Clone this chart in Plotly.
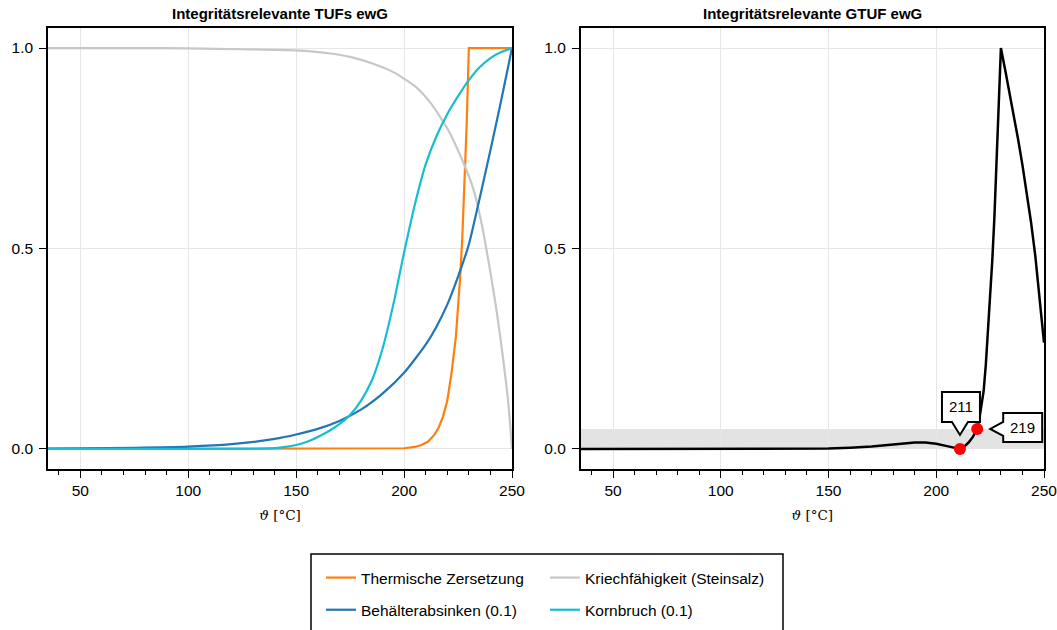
import plotly.graph_objects as go

# ---------------- data ----------------
# Left panel: Integritätsrelevante TUFs ewG
x_therm = [35, 100, 150, 180, 190, 195, 200, 205, 208, 211, 214, 216, 218, 220,
           222, 224, 225, 226, 227, 228, 229, 230, 250]
y_therm = [0.0, 0.0, 0.0, 0.00003, 0.0002, 0.0006, 0.0018, 0.005, 0.01, 0.018, 0.035,
           0.053, 0.08, 0.12, 0.19, 0.28, 0.35, 0.43, 0.53, 0.66, 0.81, 1.0, 1.0]

x_kriech = [35, 75, 100, 125, 150, 165, 175, 185, 195, 205, 212, 220, 227, 232,
            236, 240, 243, 246, 248, 249, 250]
y_kriech = [1.0, 1.0, 0.999, 0.997, 0.994, 0.987, 0.978, 0.962, 0.94, 0.905, 0.865,
            0.80, 0.72, 0.65, 0.56, 0.44, 0.34, 0.22, 0.13, 0.07, 0.0]

x_beh = [35, 50, 75, 100, 120, 140, 150, 160, 170, 180, 190, 200, 210, 215, 220,
         225, 230, 235, 240, 245, 250]
y_beh = [0.001, 0.0015, 0.003, 0.006, 0.012, 0.025, 0.036, 0.05, 0.07, 0.098, 0.138,
         0.19, 0.26, 0.305, 0.36, 0.43, 0.51, 0.625, 0.745, 0.87, 1.0]

x_korn = [35, 100, 130, 140, 145, 150, 155, 160, 165, 170, 175, 180, 185, 190, 195,
          200, 205, 210, 215, 220, 225, 230, 235, 240, 245, 250]
y_korn = [0.0, 0.0, 0.0005, 0.002, 0.005, 0.01, 0.018, 0.03, 0.044, 0.062, 0.085,
          0.12, 0.17, 0.25, 0.36, 0.49, 0.61, 0.71, 0.78, 0.835, 0.88, 0.92,
          0.952, 0.975, 0.99, 1.0]

# Right panel: Integritätsrelevante GTUF ewG
x_gtuf = [35, 100, 140, 150, 160, 170, 180, 185, 190, 195, 200, 205, 208, 211, 213,
          215, 217, 219, 220, 221, 222, 223, 224, 225, 226, 227, 228, 229, 230, 232,
          234, 236, 238, 240, 242, 244, 246, 248, 250]
y_gtuf = [0.0, 0.0, 0.0005, 0.001, 0.003, 0.006, 0.011, 0.014, 0.016, 0.016, 0.013,
          0.007, 0.003, 0.0, 0.006, 0.016, 0.03, 0.05, 0.075, 0.105, 0.145, 0.21,
          0.29, 0.38, 0.47, 0.58, 0.72, 0.86, 1.0, 0.945, 0.89, 0.832, 0.772, 0.708,
          0.64, 0.565, 0.48, 0.38, 0.265]

x_marks = [211, 219]
y_marks = [0.0, 0.05]
GTUF_THRESHOLD = 0.05

names = ["Thermische Zersetzung", "Kriechfähigkeit (Steinsalz)",
         "Behälterabsinken (0.1)", "Kornbruch (0.1)"]
titles = ["Integritätsrelevante TUFs ewG", "Integritätsrelevante GTUF ewG"]
x_ticks = [50, 100, 150, 200, 250]
y_ticks = [0.0, 0.5, 1.0]
y_ticktext = ["0.0", "0.5", "1.0"]

# ---------------- styling ----------------
FONT = "Liberation Sans, Arial, Helvetica, sans-serif"
C_ORANGE, C_BLUE, C_CYAN, C_GRAY = "#ff7f0e", "#1f77b4", "#17becf", "#c7c7c7"
W, H = 1057, 630
ML, MR, MT, MB = 48, 13, 28, 161
PW = W - ML - MR
PH = H - MT - MB


def px_x(p):
    return (p - ML) / PW


def px_y(p):
    return (H - MB - p) / PH


fig = go.Figure()

fig.add_trace(go.Scatter(x=x_therm, y=y_therm, mode="lines", name=names[0],
                         line=dict(color=C_ORANGE, width=2.2),
                         legend="legend", legendgroup="a", xaxis="x", yaxis="y"))
fig.add_trace(go.Scatter(x=x_kriech, y=y_kriech, mode="lines", name=names[1],
                         line=dict(color=C_GRAY, width=2.2, shape="spline", smoothing=0.6),
                         legend="legend2", legendgroup="b", xaxis="x", yaxis="y"))
fig.add_trace(go.Scatter(x=x_beh, y=y_beh, mode="lines", name=names[2],
                         line=dict(color=C_BLUE, width=2.2, shape="spline", smoothing=0.6),
                         legend="legend", legendgroup="c", xaxis="x", yaxis="y"))
fig.add_trace(go.Scatter(x=x_korn, y=y_korn, mode="lines", name=names[3],
                         line=dict(color=C_CYAN, width=2.2, shape="spline", smoothing=0.6),
                         legend="legend2", legendgroup="d", xaxis="x", yaxis="y"))

fig.add_trace(go.Scatter(x=x_gtuf, y=y_gtuf, mode="lines", showlegend=False,
                         line=dict(color="black", width=2.5),
                         xaxis="x2", yaxis="y2"))
fig.add_trace(go.Scatter(x=x_marks, y=y_marks, mode="markers", showlegend=False,
                         marker=dict(color="#ff0000", size=12),
                         cliponaxis=False, xaxis="x2", yaxis="y2"))

axis_common = dict(
    showline=True, mirror=True, linecolor="black", linewidth=1.5,
    showgrid=True, gridcolor="#e6e6e6", gridwidth=1, zeroline=False,
    ticks="outside", ticklen=7, tickwidth=1.3, tickcolor="black",
    tickfont=dict(family=FONT, size=15.5, color="black"), automargin=False,
    ticklabeloverflow="allow",
)
xcommon = dict(axis_common, range=[35, 250], tickvals=x_ticks,
               minor=dict(ticks="outside", ticklen=4, tickwidth=1.3, tickcolor="black",
                          dtick=10, tick0=0, showgrid=False),
               title=dict(text="<i>ϑ</i> [°C]", standoff=12,
                          font=dict(family="DejaVu Serif, serif", size=13.5, color="black")))
ycommon = dict(axis_common, range=[-0.05, 1.05], tickvals=y_ticks, ticktext=y_ticktext,
               ticklabelstandoff=3)

fig.update_layout(
    width=W, height=H,
    margin=dict(l=ML, r=MR, t=MT, b=MB, autoexpand=False),
    paper_bgcolor="white", plot_bgcolor="white",
    xaxis=dict(xcommon, domain=[0, px_x(512)], anchor="y"),
    yaxis=dict(ycommon, domain=[0, 1], anchor="x"),
    xaxis2=dict(xcommon, domain=[px_x(580.7), 1], anchor="y2"),
    yaxis2=dict(ycommon, domain=[0, 1], anchor="x2"),
    legend=dict(x=px_x(321), y=px_y(561), xanchor="left", yanchor="top",
                bgcolor="rgba(0,0,0,0)", borderwidth=0, tracegroupgap=9,
                font=dict(family=FONT, size=15.5, color="black")),
    legend2=dict(x=px_x(545), y=px_y(561), xanchor="left", yanchor="top",
                 bgcolor="rgba(0,0,0,0)", borderwidth=0, tracegroupgap=9,
                 font=dict(family=FONT, size=15.5, color="black")),
    showlegend=True,
)

# subplot titles
for i, t in enumerate(titles):
    xr = "x domain" if i == 0 else "x2 domain"
    yr = "y domain" if i == 0 else "y2 domain"
    fig.add_annotation(text=f"<b>{t}</b>", xref=xr, yref=yr, x=0.5, y=1,
                       xanchor="center", yanchor="middle", yshift=15, showarrow=False,
                       font=dict(family=FONT, size=15, color="black"))

# threshold band on the right panel
fig.add_shape(type="rect", xref="x2 domain", yref="y2", x0=0, x1=1,
              y0=0, y1=GTUF_THRESHOLD, fillcolor="#e3e3e3", line=dict(width=0),
              layer="below")

# callout bubbles for the marked points (pixel offsets anchored at the data points)
bubble_paths = [
    "M -18,27 L -8,27 L 0,14 L 8,27 L 20,27 L 20,57 L -18,57 Z",
    "M 26,-13 L 65,-13 L 65,16 L 26,16 L 26,7 L 13,0 L 26,-7 Z",
]
text_shift = [(1, 42), (45, 1.5)]
for xm, ym, path, (dx, dy) in zip(x_marks, y_marks, bubble_paths, text_shift):
    fig.add_shape(type="path", xref="x2", yref="y2", xsizemode="pixel",
                  ysizemode="pixel", xanchor=xm, yanchor=ym, path=path,
                  fillcolor="white", line=dict(color="black", width=2), layer="above")
    fig.add_annotation(text=str(xm), xref="x2", yref="y2", x=xm, y=ym,
                       xshift=dx, yshift=dy, showarrow=False,
                       xanchor="center", yanchor="middle",
                       font=dict(family=FONT, size=15, color="black"))

# legend frame
fig.add_shape(type="rect", xref="paper", yref="paper",
              x0=px_x(311), x1=px_x(783), y0=px_y(554), y1=px_y(645),
              line=dict(color="black", width=1.5), fillcolor="rgba(0,0,0,0)")

fig.write_html("out.html")
